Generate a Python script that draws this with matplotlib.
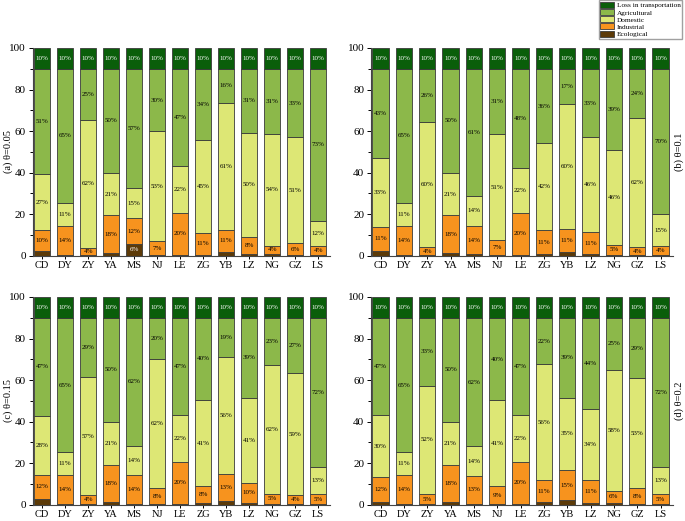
import numpy as np
import matplotlib.pyplot as plt

plt.rcParams['font.family'] = ['Liberation Serif', 'DejaVu Serif']
plt.rcParams['font.size'] = 8

cities = ['CD', 'DY', 'ZY', 'YA', 'MS', 'NJ', 'LE', 'ZG', 'YB', 'LZ', 'NG', 'GZ', 'LS']

# (a) theta = 0.05
eco_a = [2.4, 0.4, 0.2, 1.2, 5.6, 0.3, 0.5, 0.6, 1.8, 1.0, 1.1, 0.3, 0.3]
ind_a = [9.8, 14.0, 3.6, 18.2, 12.4, 6.7, 20.3, 10.6, 10.8, 8.0, 3.8, 5.9, 4.2]
dom_a = [27.0, 10.9, 61.7, 20.6, 14.7, 52.8, 22.2, 44.6, 61.0, 50.2, 53.8, 50.8, 12.4]
agr_a = [50.8, 64.7, 24.5, 50.0, 57.3, 30.2, 47.0, 34.2, 16.4, 30.8, 31.3, 33.0, 73.1]

# (b) theta = 0.1
eco_b = [2.5, 0.4, 0.2, 1.2, 0.8, 0.3, 0.5, 0.8, 1.8, 0.8, 0.5, 0.3, 0.4]
ind_b = [11.3, 14.0, 4.0, 18.2, 13.6, 7.1, 20.0, 11.4, 11.3, 10.6, 4.9, 3.7, 4.4]
dom_b = [33.1, 10.9, 60.0, 20.6, 14.4, 51.3, 21.6, 41.9, 59.7, 45.6, 45.6, 62.1, 15.2]
agr_b = [43.1, 64.7, 25.8, 50.0, 61.2, 31.3, 47.9, 35.9, 17.2, 33.0, 39.0, 23.9, 70.0]

# (c) theta = 0.15
eco_c = [2.7, 0.4, 0.3, 1.2, 0.6, 0.3, 0.5, 0.9, 1.9, 0.9, 0.6, 0.3, 0.4]
ind_c = [11.8, 14.0, 4.3, 18.2, 13.7, 7.7, 20.3, 8.1, 12.9, 9.7, 4.6, 4.4, 4.6]
dom_c = [28.2, 10.9, 56.7, 20.6, 14.1, 62.3, 22.2, 41.4, 56.3, 40.8, 62.0, 58.6, 13.0]
agr_c = [47.3, 64.7, 28.7, 50.0, 61.6, 19.7, 47.0, 39.6, 18.9, 38.6, 22.8, 26.7, 72.0]

# (d) theta = 0.2
eco_d = [1.3, 0.4, 0.3, 1.2, 0.6, 0.3, 0.5, 1.3, 2.2, 0.9, 1.0, 0.3, 0.4]
ind_d = [12.0, 14.0, 4.8, 18.2, 13.2, 8.7, 20.3, 10.6, 14.6, 11.2, 5.9, 7.7, 4.6]
dom_d = [29.7, 10.9, 52.3, 20.6, 14.3, 41.2, 22.2, 55.7, 34.6, 34.0, 58.1, 52.8, 13.0]
agr_d = [47.0, 64.7, 32.6, 50.0, 61.9, 39.8, 47.0, 22.4, 38.6, 43.9, 25.0, 29.2, 72.0]

loss = [10] * len(cities)

panels = [
    ('(a) θ=0.05', eco_a, ind_a, dom_a, agr_a, [0.048, 0.509, 0.434, 0.399], 'left'),
    ('(b) θ=0.1', eco_b, ind_b, dom_b, agr_b, [0.542, 0.509, 0.440, 0.399], 'right'),
    ('(c) θ=0.15', eco_c, ind_c, dom_c, agr_c, [0.048, 0.031, 0.434, 0.399], 'left'),
    ('(d) θ=0.2', eco_d, ind_d, dom_d, agr_d, [0.542, 0.031, 0.440, 0.399], 'right'),
]

names = ['Ecological', 'Industrial', 'Domestic', 'Agricultural', 'Loss in transportation']
colors = ['#5c3a08', '#f7931e', '#dde775', '#8cb84a', '#0a5e0a']
text_colors = ['white', 'black', 'black', 'black', 'white']

fig = plt.figure(figsize=(6.85, 5.21), dpi=100)
x = np.arange(len(cities))
handles = None

for title, eco, ind, dom, agr, pos, side in panels:
    ax = fig.add_axes(pos)
    bottom = np.zeros(len(cities))
    hs = []
    for k, vals in enumerate([eco, ind, dom, agr, loss]):
        vals = np.array(vals, dtype=float)
        h = ax.bar(x, vals, 0.7, bottom=bottom, color=colors[k],
                   edgecolor='#3a3a3a', linewidth=0.6, label=names[k])
        hs.append(h)
        for i, v in enumerate(vals):
            if k == 0 and v < 3.5:
                continue
            ax.text(x[i], bottom[i] + v / 2, f'{int(v + 0.5)}%', ha='center', va='center',
                    fontsize=5, color=text_colors[k])
        bottom += vals
    handles = hs
    ax.set_xlim(-0.4, 12.52)
    ax.set_ylim(0, 100)
    ax.set_xticks(x)
    ax.set_xticklabels(cities, fontsize=7.5)
    ax.set_yticks(np.arange(0, 101, 20))
    ax.set_yticks(np.arange(10, 100, 20), minor=True)
    ax.tick_params(axis='y', labelsize=8, length=3, width=0.7, pad=2)
    ax.tick_params(axis='y', which='minor', length=2, width=0.7)
    ax.tick_params(axis='x', length=2.5, width=0.7, pad=1.5)
    ax.spines['top'].set_visible(False)
    ax.spines['right'].set_visible(False)
    ax.spines['left'].set_color('#444444')
    ax.spines['bottom'].set_color('#444444')
    # panel label, placed in figure coordinates
    yc = pos[1] + pos[3] / 2
    if side == 'right':
        fig.text(679 / 685, yc, title, rotation=90, ha='center', va='center', fontsize=7.5)
    else:
        fig.text(8 / 685, yc, title, rotation=90, ha='center', va='center', fontsize=7.5)

fig.legend(handles[::-1], names[::-1], loc='upper right', bbox_to_anchor=(0.996, 1.0),
           fontsize=5.2, frameon=True, fancybox=False, edgecolor='#888888',
           handlelength=1.9, handleheight=0.9, labelspacing=0.1, borderpad=0.2,
           handletextpad=0.4, borderaxespad=0.05)

fig.savefig('out.png', dpi=100)
